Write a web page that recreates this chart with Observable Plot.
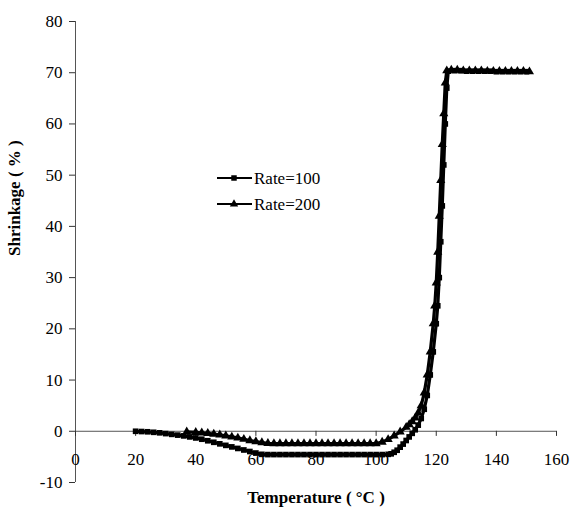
<!DOCTYPE html>
<html>
<head>
<meta charset="utf-8">
<script src="https://cdn.jsdelivr.net/npm/d3@7"></script>
<script src="https://cdn.jsdelivr.net/npm/@observablehq/plot@0.6"></script>
<style>
  body { margin: 0; background: #fff; }
  #chart { position: relative; width: 572px; height: 513px; }
</style>
</head>
<body>
<div id="chart"></div>
<script>
// ---- data ----
const seriesNames = ["Rate=100", "Rate=200"];

const tempRate100 = [20,22,24,26,28,30,32,34,36,38,40,42,44,46,48,50,52,54,56,58,60,62,64,66,68,70,72,74,76,78,80,82,84,86,88,90,92,94,96,98,100,102,104,105,106,107,108,109,110,111,112,113,114,115,116,117,118,119,120,120.5,121,121.5,122,122.5,123,123.5,124,126,128,130,132,134,136,138,140,142,144,146,148,150];
const shrinkRate100 = [0,-0.05,-0.1,-0.2,-0.3,-0.45,-0.6,-0.75,-0.9,-1.1,-1.3,-1.55,-1.85,-2.15,-2.45,-2.75,-3.05,-3.35,-3.65,-3.95,-4.25,-4.5,-4.55,-4.55,-4.55,-4.55,-4.55,-4.55,-4.55,-4.55,-4.55,-4.55,-4.55,-4.55,-4.55,-4.55,-4.55,-4.55,-4.55,-4.55,-4.55,-4.55,-4.5,-4.4,-4.1,-3.7,-3.1,-2.5,-1.8,-1.1,-0.4,0.3,1.2,2.5,4.3,7,11,15.5,21,24.5,30,37,44,52,60,67,70.3,70.4,70.4,70.3,70.3,70.3,70.3,70.3,70.2,70.2,70.2,70.2,70.2,70.2];

const tempRate200 = [37,40,42,44,46,48,50,52,54,56,58,60,62,64,66,68,70,72,74,76,78,80,82,84,86,88,90,92,94,96,98,100,102,104,106,108,110,111,112,113,114,115,116,117,118,119,119.5,120,120.5,121,121.5,122,122.5,123,123.5,125,127,129,131,133,135,137,139,141,143,145,147,149,151];
const shrinkRate200 = [-0.1,-0.2,-0.3,-0.4,-0.55,-0.7,-0.9,-1.1,-1.3,-1.55,-1.8,-2.0,-2.2,-2.35,-2.4,-2.4,-2.4,-2.4,-2.4,-2.4,-2.4,-2.4,-2.4,-2.4,-2.4,-2.4,-2.4,-2.4,-2.4,-2.4,-2.4,-2.4,-2.1,-1.6,-0.9,-0.1,0.8,1.3,1.9,2.6,3.6,5,7.5,11,15.5,21,24.5,29,35,42,49,56,62,68,70.4,70.5,70.5,70.4,70.4,70.4,70.4,70.3,70.3,70.3,70.3,70.3,70.3,70.3,70.2];

const xTicks = [0,20,40,60,80,100,120,140,160];
const yTicks = [-10,0,10,20,30,40,50,60,70,80];
const xLabel = "Temperature ( °C )";
const yLabel = "Shrinkage ( % )";

const rows100 = tempRate100.map((t, i) => ({t, s: shrinkRate100[i], series: seriesNames[0]}));
const rows200 = tempRate200.map((t, i) => ({t, s: shrinkRate200[i], series: seriesNames[1]}));

const fs = 17;
const serif = "'Liberation Serif', 'Times New Roman', Times, serif";
const chart = Plot.plot({
  width: 572,
  height: 513,
  marginLeft: 75,
  marginRight: 16,
  marginTop: 21,
  marginBottom: 31,
  style: {fontFamily: serif, fontSize: fs + "px", color: "#000", background: "#fff"},
  x: {domain: [0, 160], axis: null},
  y: {domain: [-10, 80], axis: null},
  marks: [
    // y axis
    Plot.ruleX([0], {y1: -10, y2: 80, stroke: "#555", strokeWidth: 1}),
    Plot.axisY({ticks: yTicks, tickFormat: d => String(d), tickSize: 6, tickPadding: 7, label: null, fontSize: fs, fontFamily: serif, stroke: "#333", color: "#000"}),
    // x axis drawn along y = 0
    Plot.ruleY([0], {x1: 0, x2: 160, stroke: "#555", strokeWidth: 1}),
    Plot.ruleX(xTicks, {x: d => d, y1: 0, y2: -1, stroke: "#333"}),
    Plot.text(xTicks, {x: d => d, y: 0, dy: 28, text: d => String(d), fontSize: fs, fontFamily: serif, fill: "#000"}),
    // axis titles
    Plot.text([xLabel], {frameAnchor: "bottom", dy: 20, text: d => d, fontSize: fs, fontFamily: serif, fontWeight: "bold", fill: "#000"}),
    Plot.text([yLabel], {frameAnchor: "left", dx: -61, dy: 4, rotate: -90, text: d => d, fontSize: fs, fontFamily: serif, fontWeight: "bold", fill: "#000"}),
    // series
    Plot.line(rows100, {x: "t", y: "s", stroke: "#000", strokeWidth: 3.2}),
    Plot.dot(rows100, {x: "t", y: "s", symbol: "square", r: 3.2, fill: "#000", stroke: "none"}),
    Plot.line(rows200, {x: "t", y: "s", stroke: "#000", strokeWidth: 3.2}),
    Plot.dot(rows200, {x: "t", y: "s", symbol: "triangle", r: 3.4, fill: "#000", stroke: "none"})
  ]
});
document.getElementById("chart").appendChild(chart);

// legend inside the plot area
const svg = d3.select(chart);
const legend = svg.append("g").attr("transform", "translate(217,178)");
const symbols = [d3.symbolSquare, d3.symbolTriangle];
seriesNames.forEach((name, i) => {
  const g = legend.append("g").attr("transform", `translate(0,${i * 26})`);
  g.append("line").attr("x1", 0).attr("x2", 35).attr("y1", 0).attr("y2", 0).attr("stroke", "#000").attr("stroke-width", 2);
  g.append("path").attr("d", d3.symbol(symbols[i], 30)()).attr("transform", "translate(17,0)").attr("fill", "#000");
  g.append("text").attr("x", 37).attr("y", 0).attr("dy", "0.35em")
    .attr("text-anchor", "start").attr("font-size", fs).attr("fill", "#000").text(name);
});
// force the serif face on every text element
svg.selectAll("text").style("font-family", serif);
</script>
</body>
</html>
